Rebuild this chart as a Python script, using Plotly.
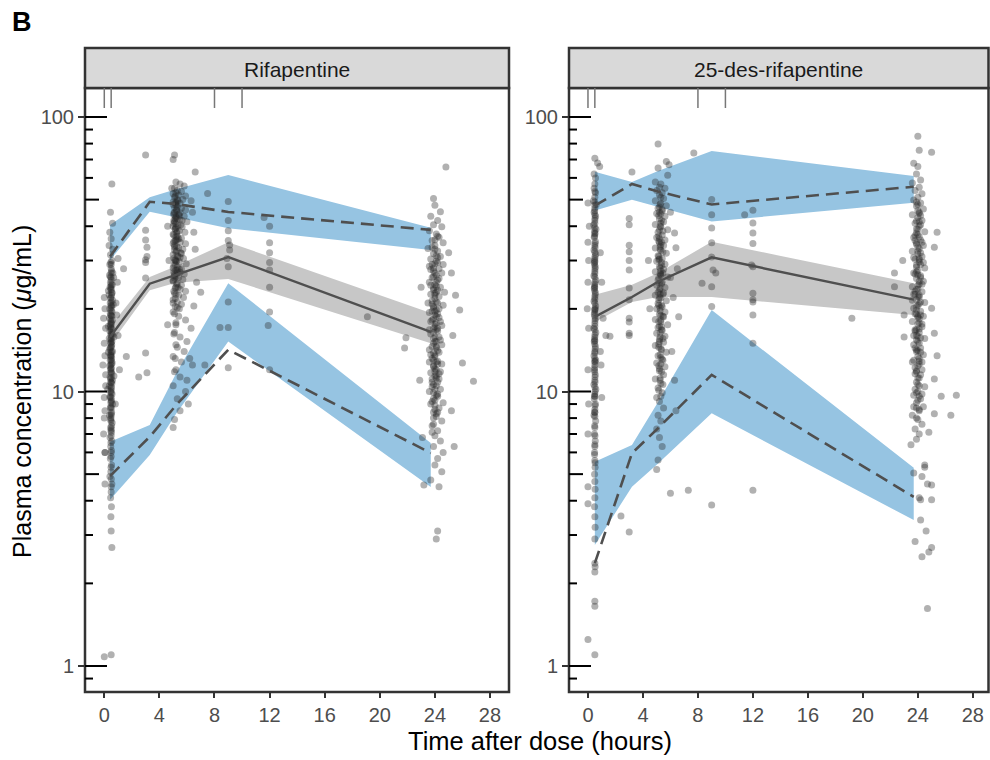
import plotly.graph_objects as go

# ---------------- summary curves (VPC) ----------------
rif_t = [0.42, 3.3, 5.2, 9.0, 23.7]
rif_mean = [15.8, 24.7, 26.6, 30.9, 16.5]
rif_mean_lo = [14.8, 23.4, 24.9, 25.7, 15.0]
rif_mean_hi = [17.2, 26.1, 28.6, 35.0, 19.3]
rif_p95 = [31.0, 49.1, 48.2, 45.1, 38.8]
rif_p95_lo = [30.1, 45.2, 43.0, 39.3, 32.8]
rif_p95_hi = [40.4, 51.0, 54.6, 61.5, 39.5]
rif_p05 = [4.92, 6.84, 8.9, 14.2, 5.97]
rif_p05_lo = [4.03, 5.87, 8.28, 15.2, 4.49]
rif_p05_hi = [6.56, 7.55, 11.6, 24.8, 6.49]

des_t = [0.5, 3.2, 5.1, 9.0, 23.7]
des_mean = [18.7, 22.1, 25.1, 30.8, 21.6]
des_mean_lo = [17.9, 21.2, 22.1, 22.1, 19.0]
des_mean_hi = [22.5, 24.5, 27.0, 35.1, 24.8]
des_p95 = [47.5, 57.0, 53.5, 48.0, 55.7]
des_p95_lo = [45.6, 49.9, 47.1, 41.6, 48.7]
des_p95_hi = [63.2, 58.0, 63.6, 75.2, 61.0]
des_p05 = [2.37, 5.96, 7.35, 11.5, 4.13]
des_p05_lo = [2.76, 4.50, 5.47, 8.33, 3.40]
des_p05_hi = [5.55, 6.38, 9.16, 19.8, 5.27]

# rug (top) times
rug_times = [0, 0.5, 8, 10]

# ---------------- observations (time h, conc ug/mL) ----------------
rif_obs_05h = [
    (0.55,57),(0.45,45),(0.6,41),(0.4,38),(0.5,36),(0.35,34),(0.6,33),(0.45,31.5),(0.55,30),(0.4,29),
    (0.5,28),(0.62,27),(0.38,26.5),(0.5,26),(0.45,25),(0.58,24.5),(0.42,24),(0.5,23.5),(0.55,23),(0.35,22.5),
    (0.48,22),(0.6,21.5),(0.43,21),(0.52,20.5),(0.4,20),(0.56,19.5),(0.47,19),(0.38,18.5),(0.6,18.2),(0.5,18),
    (0.44,17.5),(0.53,17),(0.41,16.6),(0.58,16.2),(0.49,16),(0.36,15.6),(0.55,15.2),(0.46,15),(0.51,14.6),(0.4,14.2),
    (0.6,14),(0.47,13.6),(0.53,13.3),(0.43,13),(0.57,12.7),(0.39,12.4),(0.5,12.2),(0.45,12),(0.55,11.6),(0.42,11.3),
    (0.59,11),(0.48,10.8),(0.37,10.5),(0.52,10.3),(0.45,10),(0.56,9.8),(0.41,9.5),(0.5,9.2),(0.6,9),(0.44,8.7),
    (0.53,8.4),(0.38,8.2),(0.49,8),(0.57,7.7),(0.46,7.4),(0.52,7.1),(0.42,6.8),(0.55,6.6),(0.47,6.3),(0.5,6),
    (0.44,5.7),(0.53,5.4),(0.48,5.1),(0.41,4.9),(0.55,4.6),(0.5,4.3),(0.46,4.1),(0.52,3.8),(0.48,3.5),(0.5,3.1),
    (0.55,2.7),
    (0.47,29.5),(0.53,27.5),(0.44,26.2),(0.5,24.2),(0.56,22.8),(0.46,21.8),(0.51,20.2),(0.43,19.3),(0.55,18.8),(0.49,17.8),
    (0.45,17.2),(0.52,16.4),(0.47,15.4),(0.54,14.8),(0.42,14.4),(0.5,13.8),(0.46,13.4),(0.53,12.9),(0.48,12.5),(0.51,11.8),
    (0.45,11.1),(0.55,10.7),(0.49,10.1),(0.43,9.6),(0.52,9.3),(0.47,8.8),(0.5,8.3),(0.46,7.9),(0.53,7.5),(0.48,7.2),
    (0.5,29),(0.49,27),(0.51,25.5),(0.5,24.6),(0.48,23.7),(0.52,22.4),(0.5,21.2),(0.49,20.6),(0.51,19.7),(0.5,18.9),
    (0.48,18.3),(0.52,17.6),(0.5,16.9),(0.49,16.2),(0.51,15.6),(0.5,15.1),(0.48,14.5),(0.52,14.0),(0.5,13.5),(0.49,13.1),
    (0.51,12.6),(0.5,12.1),(0.48,11.7),(0.52,11.2),(0.5,10.8),(0.49,10.4),(0.51,9.9),(0.5,9.5),(0.48,9.1),(0.52,8.7),
    (0.5,8.2),(0.49,7.8),(0.51,7.3),(0.5,6.9),(0.48,6.5),(0.52,6.1),(0.5,5.8),(0.49,5.3),(0.51,4.8),(0.5,4.5),
    (0.0,22),(0.05,20),(-0.05,18.5),(0.1,17),(0.0,15),(0.05,13.5),(-0.1,12.5),(0.1,11.5),(0.0,9.5),(0.05,8.5),
    (0.0,8.0),(-0.05,7.0),(0.05,6.0),(0.1,10.5),(1.0,30.5),(0.95,25),(1.4,28),(1.6,13.4),(1.0,16),(0.9,19),
    (1.1,12),(0.8,9),(0.85,21),(0.05,4.6),(0.0,1.08),(0.5,1.1),(0.3,17.3),(0.65,20.7),(0.3,13.9),(0.7,11.4),
    (0.25,10.2),(0.7,15.8),(0.3,23.3),(0.68,26),(0.05,6.0),
]
rif_obs_3h = [
    (3.0,72.7),(3.0,38.7),(3.0,35.6),(3.1,31),(3.0,29.5),(3.0,25.9),(3.0,13.8),(3.1,11.7),(2.5,11.3),(3.0,30.2),(3.1,33.5),
]
rif_obs_5h = [
    (5.1,72.7),(5.0,70),(6.6,63),(5.2,58),(5.5,57),(5.8,56),(4.9,55),(5.3,54),(5.6,53.5),(5.0,52.5),
    (5.4,52),(5.9,51.5),(5.1,51),(5.7,50),(6.3,49.5),(5.2,49),(5.5,48.5),
    (5.0,48),(5.3,47.2),(5.6,46.5),(5.9,45.8),(5.1,45),(5.4,44.2),(5.8,43.5),(5.2,43),(5.5,42.2),(6.0,41.5),
    (5.05,41),(5.35,40.2),(5.65,39.8),(5.15,39),(5.45,38.5),(5.85,38),(5.0,37.4),(5.3,36.8),(5.6,36.2),(5.2,35.6),
    (5.5,35),(5.9,34.5),(5.1,34),(5.4,33.4),(5.7,33),(5.25,32.5),(5.55,32),(5.0,31.5),(5.35,31),(5.75,30.5),
    (5.15,30),(5.45,29.6),(5.95,29.2),(5.05,28.8),(5.3,28.4),(5.6,28),(5.2,27.6),(5.5,27.2),(5.8,26.8),(5.1,26.4),
    (5.4,26),(5.7,25.6),(5.0,25.2),(5.3,24.8),(5.6,24.4),(5.2,24),(5.5,23.6),(5.9,23.2),(5.1,22.8),(5.4,22.4),
    (5.75,22),(5.0,21.6),(5.3,21.2),(5.6,20.8),(5.15,20.4),(5.45,20),
    (5.25,46),(5.45,43.8),(5.15,42.5),(5.55,40.5),(5.25,37.9),(5.4,36),(5.1,33.6),(5.6,31.8),(5.25,29.8),(5.45,27.9),
    (5.1,25.9),(5.35,23.9),(5.05,35.2),(5.5,30.8),(5.3,27),(5.2,39.6),(5.5,44.8),(5.35,49.5),(5.05,44),(5.65,42),
    (5.1,55),(5.2,53),(5.15,51.5),(5.3,50),(5.0,49),(5.2,47.8),(5.1,46.8),(5.25,45.6),(5.05,44.6),(5.2,43.4),
    (5.3,42.6),(5.1,41.6),(5.2,40.8),(5.0,40),(5.15,39.2),(5.3,38.2),(5.05,37.2),(5.2,36.6),(5.15,35.4),(5.0,34.6),
    (5.25,33.8),(5.1,32.8),(5.2,32.2),(5.3,31.2),(5.05,30.6),(5.2,29.8),(5.15,29),(5.0,28.2),(5.3,27.6),(5.1,26.8),
    (5.2,26.2),(5.0,25.4),(5.25,24.6),(5.15,23.8),(5.05,23.2),(5.2,22.6),(5.15,21.8),(5.0,21),(5.3,20.2),(5.1,19.2),
    (5.2,17.8),(5.05,16.2),(5.2,14.8),(5.15,13.2),(5.1,11.8),(5.2,48.6),(5.05,42),(5.3,35.8),(5.15,30.2),(5.05,27.2),
    (5.0,19.5),(5.4,18.8),(5.9,18.2),(5.2,17.5),(6.3,17),(5.1,16.4),(5.5,15.8),(6.0,15.2),(5.3,14.5),(5.8,14),
    (5.0,13.4),(5.6,12.8),(6.4,12.5),(5.2,12),(5.5,11.3),(5.0,10.5),(5.9,10),(5.3,9.4),(6.1,9),(5.5,8.5),
    (5.1,7.9),(5.0,7.4),(4.6,17.5),(6.5,20.5),(6.7,25),(6.6,33),(6.5,38),(4.7,30),(4.6,40),(6.4,45),
    (7.0,23),(6.2,13.2),
]
rif_obs_9h = [
    (9.0,49.2),(9.0,42),(9.0,35.5),(9.1,32.8),(9.0,28.5),(9.0,21.2),(9.0,17.1),(9.0,12.2),(8.4,17.1),(7.5,52.6),
    (7.3,12.5),(6.0,11),(9.1,34.2),(8.9,30.5),(9.0,38.5),
]
rif_obs_12h = [
    (11.6,43),(12.0,40),(12.0,34.8),(12.0,32),(12.0,29.5),(12.0,27.7),(12.0,24),(12.0,19.5),(11.9,17.4),(12.0,12),
]
rif_obs_24h = [
    (24.8,65.8),(23.9,50.5),(24.0,47.7),(24.4,45.2),(23.7,43.5),(24.2,42),(23.9,40.5),(24.5,39.8),(23.6,38.5),(24.1,37.5),
    (24.3,36.5),(23.8,35.5),(24.6,34.8),(24.0,34),(23.5,33.2),(24.2,32.5),(23.9,31.8),(24.4,31),(23.7,30.4),(24.1,29.8),
    (24.0,29.2),(23.6,28.6),(24.3,28),(23.9,27.5),(24.5,27),(24.1,26.5),(23.8,26),(24.2,25.5),(23.6,25),(24.0,24.5),
    (24.4,24),(23.9,23.5),(24.1,23),(23.7,22.6),(24.3,22.2),(24.0,21.8),(23.8,21.4),(24.2,21),(24.6,20.6),(23.9,20.2),
    (24.1,19.8),(23.6,19.4),(24.0,19),(24.3,18.6),(23.8,18.2),(24.1,17.8),(24.5,17.4),(23.9,17),(24.2,16.6),(23.7,16.2),
    (24.0,15.8),(24.4,15.4),(23.9,15),(24.1,14.6),(23.6,14.2),(24.3,13.9),(24.0,13.6),(23.8,13.2),(24.2,12.9),(24.5,12.6),
    (23.9,12.3),(24.1,12),(23.7,11.7),(24.0,11.4),(24.3,11.1),(23.8,10.8),(24.1,10.5),(24.4,10.2),(23.9,9.9),(24.2,9.6),
    (24.0,9.3),(23.7,9.0),(24.3,8.7),(23.9,8.4),(24.1,8.1),(24.5,7.8),(23.8,7.5),(24.2,7.2),(24.0,6.9),(24.4,6.6),
    (23.9,6.3),(24.6,6.0),(24.2,5.7),(24.0,5.4),(24.5,5.1),(23.7,4.76),(24.3,4.5),(23.2,4.56),(24.2,3.1),(24.1,2.9),
    (24.0,33),(24.2,29.5),(23.9,26.2),(24.1,24.2),(24.0,22.8),(23.8,20.8),(24.2,19.2),(24.0,17.6),(23.9,16.4),(24.1,15.2),
    (24.2,14.1),(23.9,13),(24.0,12.1),(24.1,11.2),(23.8,10.4),(24.2,9.8),(24.0,8.9),(23.9,8.0),(24.3,25.8),(23.7,27.8),
    (24.4,18),(23.6,16.8),(24.5,14.8),(23.6,12.8),(24.4,11.8),(23.6,10.0),(24.6,9.1),(23.5,21),(24.7,23),(24.6,29),
    (24.0,35.6),(24.1,31.2),(23.9,28.2),(24.0,27),(24.1,25),(23.9,23.8),(24.0,22.4),(24.1,21.2),(23.9,20.4),(24.0,19.6),
    (24.1,18.8),(23.9,18.4),(24.0,17.2),(24.1,16.8),(23.9,15.6),(24.0,15.2),(24.1,14.4),(23.9,13.8),(24.0,13.4),(24.1,12.8),
    (23.9,12.4),(24.0,11.8),(24.1,11.4),(23.9,10.6),(24.0,10.2),(24.1,9.7),(23.9,9.4),(24.0,8.6),(24.1,8.3),(23.9,7.6),
    (24.2,36.8),(23.8,33.5),(24.2,30.8),(23.8,29),(24.2,23.4),(23.8,19.6),(24.2,17),(23.8,14.6),(24.2,12.6),(23.8,11.1),
    (24.2,10.8),(23.8,9.2),(24.2,8.4),(23.8,7.1),(24.3,20),(23.7,18),(24.3,15.8),(23.7,13.6),(24.3,11.6),(23.7,24.4),
    (26.0,12.7),(26.8,10.9),(25.8,19.8),(25.5,22.4),(21.9,15.7),(21.8,14.4),(19.1,18.7),(25.2,27),(25.0,32),(23.0,24),
    (25.3,16),(22.9,11),(25.2,8.5),(25.4,6.3),(23.1,6.8),
]

des_obs_05h = [
    (0.5,70.7),(0.7,68),(0.85,66),(0.45,62),(0.55,60),(0.0,48.6),(0.5,57),(0.45,55),(0.55,53),(0.5,51),
    (0.4,49.5),(0.6,48),(0.5,46.5),(0.45,45),(0.55,43.5),(0.5,42),(0.42,40.5),(0.58,39),(0.5,37.8),(0.46,36.5),
    (0.54,35.2),(0.5,34),(0.44,32.8),(0.56,31.6),(0.5,30.5),(0.47,29.4),(0.53,28.4),(0.5,27.4),(0.43,26.4),(0.57,25.5),
    (0.5,24.6),(0.46,23.7),(0.54,22.9),(0.5,22.1),(0.44,21.3),(0.56,20.5),(0.5,19.8),(0.47,19.1),(0.53,18.4),(0.5,17.7),
    (0.43,17),(0.57,16.4),(0.5,15.8),(0.46,15.2),(0.54,14.6),(0.5,14),(0.44,13.5),(0.56,13),(0.5,12.5),(0.47,12),
    (0.53,11.5),(0.5,11),(0.43,10.6),(0.57,10.2),(0.5,9.8),(0.46,9.4),(0.54,9),(0.5,8.6),(0.44,8.2),(0.56,7.8),
    (0.5,7.4),(0.47,7),(0.53,6.6),(0.5,6.3),(0.48,6.0),(0.5,5.6),(0.52,5.3),(0.48,5.0),(0.5,4.7),(0.52,4.4),
    (0.5,4.1),(0.48,3.8),(0.5,3.5),(0.52,3.2),(0.5,2.9),(0.5,2.37),(0.5,2.2),(0.52,2.3),(0.5,1.72),(0.5,1.65),
    (0.0,1.25),(0.5,1.1),
    (0.5,44),(0.48,38.4),(0.52,33.4),(0.49,28.9),(0.51,25),(0.5,21.7),(0.49,18.8),(0.51,16.1),(0.5,13.8),(0.49,11.8),
    (0.51,10.8),(0.5,9.6),(0.49,8.4),(0.51,31),(0.5,26.9),(0.49,23.3),(0.51,20.1),(0.5,17.3),(0.49,14.9),(0.51,12.8),
    (0.5,41),
    (0.5,49),(0.49,45.5),(0.51,42.8),(0.5,39.6),(0.48,36.8),(0.52,34.6),(0.5,32.2),(0.49,30),(0.51,28),(0.5,26.1),
    (0.48,24.2),(0.52,22.5),(0.5,21),(0.49,19.4),(0.51,18.1),(0.5,16.8),(0.48,15.5),(0.52,14.3),(0.5,13.2),(0.49,12.2),
    (0.51,11.3),(0.5,10.4),(0.48,9.6),(0.52,8.9),(0.5,8.1),(0.49,7.5),(0.51,6.9),(0.5,6.4),(0.48,5.9),(0.52,5.5),
    (0.5,53.5),(0.49,47.8),(0.51,37.5),(0.5,29.7),(0.49,23.9),(0.51,19.9),(0.5,15.3),(0.49,12.9),(0.51,10),(0.5,8.4),
    (0.0,35),(0.05,30),(0.0,25),(-0.05,20),(0.05,17),(0.0,12),(0.05,9),(0.0,7),(1.0,25),(1.1,18.5),
    (0.9,14),(1.3,16),(0.95,12.5),(0.0,4.5),(0.0,3.9),(1.0,9.5),(0.1,40),(0.9,32),
]
des_obs_3h = [
    (3.2,63),(3.0,42.7),(3.0,40.5),(3.0,34.1),(3.0,32.3),(3.0,30),(3.0,27.7),(3.0,23.8),(3.0,21.6),(3.0,18.5),
    (3.0,17.9),(3.0,16.3),(1.6,15.9),(3.0,16),(3.0,3.08),(2.4,3.52),(6.0,4.26),(7.3,4.37),
]
des_obs_5h = [
    (5.1,79.7),(5.1,65.2),(5.7,68.8),(5.9,67),(5.8,61.4),(4.9,58),(5.3,57),(5.6,55),(5.0,54),(5.4,53),
    (5.2,52),(5.5,50.5),(4.9,49.5),(5.3,48.5),(5.7,47.5),(5.1,46.5),(5.4,45.5),(5.0,44.5),(5.6,43.5),(5.2,42.5),
    (5.5,41.5),(4.9,40.6),(5.3,39.7),(5.8,38.8),(5.1,38),(5.4,37.2),(5.0,36.4),(5.6,35.6),(5.2,34.8),(5.5,34),
    (4.9,33.3),(5.3,32.6),(5.7,31.9),(5.1,31.2),(5.4,30.5),(5.0,29.8),(5.6,29.1),(5.2,28.5),(5.5,27.9),(4.9,27.3),
    (5.3,26.7),(5.8,26.1),(5.1,25.5),(5.4,25),(5.0,24.4),(5.6,23.9),(5.2,23.4),(5.5,22.9),(4.9,22.4),(5.3,21.9),
    (5.7,21.4),(5.1,20.9),(5.4,20.4),(5.0,20),(5.6,19.5),(5.2,19.1),(5.5,18.7),(4.9,18.3),(5.3,17.9),(5.8,17.5),
    (5.1,17.1),(5.4,16.7),(5.0,16.3),(5.6,15.9),(5.2,15.5),(5.5,15.1),(4.9,14.7),(5.3,14.3),(5.7,13.9),(5.1,13.5),
    (5.4,13.1),(5.0,12.7),(5.6,12.3),(5.2,11.9),(5.5,11.5),(4.9,11.1),(5.3,10.7),(5.1,10.3),(5.4,9.9),(5.0,9.5),
    (5.2,9.2),(5.5,8.7),(5.1,8.2),(5.3,7.8),(5.0,7.3),(5.2,6.8),(5.4,6.3),(5.1,5.63),(5.0,5.2),
    (5.2,45),(5.3,41),(5.2,36),(5.25,33),(5.15,30.2),(5.3,27.5),(5.2,24.8),(5.25,22.6),(5.15,20.6),(5.3,18.9),
    (5.2,17.3),(5.25,15.8),(5.15,14.5),(5.3,13.3),(5.2,12.1),(5.25,11),(5.15,35.3),(5.35,28.8),(5.1,23),(5.35,16.8),
    (5.2,55.5),(5.3,51),(5.25,48),(5.4,46),(5.15,43.8),(5.35,42),(5.25,40),(5.45,38.4),(5.15,36.8),(5.35,35),
    (5.25,33.7),(5.45,32.2),(5.15,31),(5.35,29.5),(5.25,28.2),(5.45,27),(5.15,25.9),(5.35,24.7),(5.25,23.7),(5.45,22.6),
    (5.15,21.6),(5.35,20.6),(5.25,19.7),(5.45,18.8),(5.15,18),(5.35,17.2),(5.25,16.4),(5.45,15.6),(5.15,14.9),(5.35,14.2),
    (5.25,13.6),(5.45,13),(5.15,12.4),(5.35,11.8),(5.25,11.2),(5.45,10.6),(5.15,10.1),(5.3,9.6),(5.2,38.8),(5.3,34.2),
    (5.2,30.4),(5.3,26.4),(5.2,22),(5.3,18.2),(5.2,15.2),(5.3,12.6),(5.2,47),(5.3,44.4),(5.25,26.9),(5.25,20.2),
    (6.3,37.8),(6.4,33.4),(6.0,26),(6.6,18.7),(6.2,22),(6.5,28),(6.1,14),(6.3,11),(4.5,20),(4.4,30),
    (6.0,45),(6.4,8.5),
]
des_obs_9h = [
    (9.0,50),(9.0,44),(9.0,39.4),(9.0,34.8),(9.0,30.9),(9.1,27.7),(9.3,27),(8.3,24.8),(9.0,24.1),(9.0,20.4),
    (9.0,3.86),(7.7,73.9),
]
des_obs_12h = [
    (11.4,44),(12.0,45.7),(12.0,41.1),(12.0,37.8),(12.0,34.6),(11.9,28.9),(12.0,28.5),(12.0,21.2),(12.0,22.8),(12.0,21.6),
    (12.0,19),(12.0,15.0),(12.0,4.37),(19.2,18.5),
]
des_obs_24h = [
    (24.0,85),(24.1,75.6),(25.0,74.4),(23.7,67.8),(24.0,66),(23.9,62),(24.2,59),(23.6,57.5),(24.1,55.5),(23.8,54),
    (24.3,52.5),(24.0,51),(23.7,49.8),(24.2,48.6),(23.9,47.4),(24.4,46.2),(24.1,45),(23.6,44),(24.0,43),(24.3,42),
    (23.8,41),(24.1,40),(23.9,39.1),(24.5,38.2),(24.0,37.3),(23.7,36.4),(24.2,35.6),(23.9,34.8),(24.4,34),(24.1,33.2),
    (23.6,32.4),(24.0,31.7),(24.3,31),(23.8,30.3),(24.1,29.6),(23.9,28.9),(24.5,28.2),(24.0,27.6),(23.7,27),(24.2,26.4),
    (23.9,25.8),(24.4,25.2),(24.1,24.6),(23.6,24.1),(24.0,23.6),(24.3,23.1),(23.8,22.6),(24.1,22.1),(23.9,21.6),(24.5,21.1),
    (24.0,20.6),(23.7,20.1),(24.2,19.6),(23.9,19.2),(24.4,18.8),(24.1,18.4),(23.6,18),(24.0,17.6),(24.3,17.2),(23.8,16.8),
    (24.1,16.4),(23.9,16),(24.5,15.6),(24.0,15.2),(23.7,14.8),(24.2,14.4),(23.9,14),(24.4,13.6),(24.1,13.2),(23.6,12.8),
    (24.0,12.4),(24.3,12),(23.8,11.6),(24.1,11.2),(23.9,10.8),(24.5,10.4),(24.0,10),(23.7,9.7),(24.2,9.4),(23.9,9.1),
    (24.4,8.8),(24.1,8.5),(23.6,8.2),(24.0,7.9),(24.3,7.6),(23.8,7.3),(24.1,7.0),(23.9,6.7),(23.5,6.4),(24.5,5.4),
    (24.5,5.3),(25.0,4.56),(24.7,4.6),(25.0,4.03),(24.2,4.03),(24.1,4.1),(24.2,3.4),(24.6,3.1),(23.7,5.05),(24.3,4.9),
    (23.8,2.84),(24.3,2.5),(24.8,2.6),(25.0,2.7),(24.7,1.62),
    (24.0,45.5),(24.1,41.5),(23.9,37.8),(24.0,33.6),(24.1,30.6),(23.9,27.3),(24.0,24.4),(24.1,22.4),(23.9,20.4),(24.0,18.6),
    (24.1,16.9),(23.9,15.4),(24.0,14.1),(24.1,12.9),(23.9,11.8),(24.0,10.6),(24.1,9.6),(23.9,8.7),(24.2,26),(23.8,23.2),
    (24.2,19),(23.8,16.6),(24.2,13.9),(23.8,12.2),(24.2,32),(23.8,35.5),(24.2,43.8),(23.9,49),(24.4,29.5),(23.6,21.5),
    (24.0,48),(24.1,44.5),(23.9,41.8),(24.0,39),(24.1,36.6),(23.9,34.4),(24.0,32.4),(24.1,30.2),(23.9,28.4),(24.0,26.6),
    (24.1,25.2),(23.9,23.6),(24.0,22.2),(24.1,20.9),(23.9,19.8),(24.0,18.8),(24.1,17.8),(23.9,16.8),(24.0,15.9),(24.1,15),
    (23.9,14.2),(24.0,13.4),(24.1,12.6),(23.9,11.9),(24.0,11.2),(24.1,10.5),(23.9,9.9),(24.0,9.3),(24.1,8.6),(23.9,8),
    (24.2,40.5),(23.8,37),(24.2,29),(23.8,26.8),(24.2,21.2),(23.8,19.2),(24.2,15.7),(23.8,14.4),(24.2,11.5),(23.8,10.2),
    (24.3,24.6),(23.7,30.8),(24.3,17.6),(23.7,13),(24.3,9.8),(23.7,22.6),(24.3,35),(23.7,16),(24.3,12.8),(23.7,8.8),
    (25.2,33.5),(25.0,20.1),(25.2,16.3),(25.2,11.1),(25.7,9.6),(26.4,8.2),(25.2,8.3),(24.8,7.1),(22.3,27),(22.3,24.1),
    (23.0,15.8),(22.9,30),(23.0,19),(26.8,9.7),(25.4,38),(25.4,13.5),
]

panel_titles = ["Rifapentine", "25-des-rifapentine"]
x_ticks = [0, 4, 8, 12, 16, 20, 24, 28]
y_ticks = [1, 10, 100]
y_ticktext = ["1", "10", "100"]

# ---------------- styling ----------------
W, H = 990, 760
BLUE = "rgb(150,196,226)"
GREY_BAND = "rgb(199,199,199)"
LINE_C = "#4f4f4f"
PT_C = "rgba(40,40,40,0.36)"
FONT = "Liberation Sans, Arial, Helvetica, sans-serif"


def px_x(v):
    return v / W


def px_y(v):
    return 1 - v / H


y_dom = [px_y(692), px_y(88)]
x_doms = [[px_x(85), px_x(509)], [px_x(569), px_x(988.5)]]
x_ranges = [[-1.40, 29.38], [-1.38, 29.14]]
y_range = [-0.0947, 2.1056]
plot_h = 692 - 88

panels = [
    dict(t=rif_t, mean=rif_mean, mlo=rif_mean_lo, mhi=rif_mean_hi, p95=rif_p95, p95lo=rif_p95_lo,
         p95hi=rif_p95_hi, p05=rif_p05, p05lo=rif_p05_lo, p05hi=rif_p05_hi,
         obs=rif_obs_05h + rif_obs_3h + rif_obs_5h + rif_obs_9h + rif_obs_12h + rif_obs_24h),
    dict(t=des_t, mean=des_mean, mlo=des_mean_lo, mhi=des_mean_hi, p95=des_p95, p95lo=des_p95_lo,
         p95hi=des_p95_hi, p05=des_p05, p05lo=des_p05_lo, p05hi=des_p05_hi,
         obs=des_obs_05h + des_obs_3h + des_obs_5h + des_obs_9h + des_obs_12h + des_obs_24h),
]

fig = go.Figure()
shapes = []
annotations = []

for i, p in enumerate(panels):
    xa = "x" if i == 0 else "x2"
    ya = "y" if i == 0 else "y2"
    t = p["t"]
    poly_x = t + t[::-1]
    for hi, lo, col in [(p["p95hi"], p["p95lo"], BLUE), (p["p05hi"], p["p05lo"], BLUE),
                        (p["mhi"], p["mlo"], GREY_BAND)]:
        fig.add_trace(go.Scatter(x=poly_x, y=hi + lo[::-1], fill="toself", fillcolor=col,
                                 mode="lines", line=dict(width=0), hoverinfo="skip",
                                 showlegend=False, xaxis=xa, yaxis=ya))
    fig.add_trace(go.Scatter(x=[o[0] for o in p["obs"]], y=[o[1] for o in p["obs"]], mode="markers",
                             marker=dict(size=7, color=PT_C, line=dict(width=0)),
                             showlegend=False, xaxis=xa, yaxis=ya))
    fig.add_trace(go.Scatter(x=t, y=p["mean"], mode="lines", line=dict(color=LINE_C, width=2.4),
                             showlegend=False, xaxis=xa, yaxis=ya))
    for key in ["p95", "p05"]:
        fig.add_trace(go.Scatter(x=t, y=p[key], mode="lines",
                                 line=dict(color=LINE_C, width=2.6, dash="13px,7px"),
                                 showlegend=False, xaxis=xa, yaxis=ya))

    xd = xa + " domain"
    yd = ya + " domain"
    # panel border
    shapes.append(dict(type="rect", xref=xd, yref=yd, x0=0, x1=1, y0=0, y1=1,
                       line=dict(color="#333333", width=2.5), layer="above"))
    # strip
    shapes.append(dict(type="rect", xref=xd, yref="paper", x0=0, x1=1, y0=px_y(88), y1=px_y(48),
                       fillcolor="#d9d9d9", line=dict(color="#333333", width=2.5), layer="above"))
    annotations.append(dict(text=panel_titles[i], xref=xd, yref="paper", x=0.5, y=px_y(69),
                            showarrow=False, xanchor="center", yanchor="middle",
                            font=dict(size=21, color="#1a1a1a", family=FONT)))
    # rug marks at top
    for rt in rug_times:
        shapes.append(dict(type="line", xref=xa, yref=yd, x0=rt, x1=rt, y0=1, y1=1 - 20 / plot_h,
                           line=dict(color="#777777", width=1.5)))
    # log ticks inside (annotation_logticks style)
    dom_w = (x_doms[i][1] - x_doms[i][0]) * W
    tick_vals = [0.9]
    for dec in [1, 10]:
        tick_vals += [k * dec for k in range(1, 10)]
    tick_vals.append(100)
    for v in tick_vals:
        if v in (1, 10, 100):
            L = 22
        elif v in (5, 50):
            L = 14
        else:
            L = 8
        shapes.append(dict(type="line", xref=xd, yref=ya, x0=0, x1=L / dom_w, y0=v, y1=v,
                           line=dict(color="black", width=2)))

axis_common_x = dict(showgrid=False, zeroline=False, showline=False, ticks="outside", ticklen=5,
                     tickwidth=2, tickcolor="#333333", tickvals=x_ticks,
                     tickfont=dict(size=20, color="#4d4d4d", family=FONT))
axis_common_y = dict(type="log", range=y_range, domain=y_dom, showgrid=False, zeroline=False,
                     showline=False, ticks="outside", ticklen=6, tickwidth=1.5, tickcolor="#333333",
                     tickvals=y_ticks, ticktext=y_ticktext,
                     tickfont=dict(size=20, color="#4d4d4d", family=FONT))

annotations += [
    dict(text="<b>B</b>", xref="paper", yref="paper", x=px_x(10), y=px_y(22), showarrow=False,
         xanchor="left", yanchor="middle", font=dict(size=27, color="black", family=FONT)),
    dict(text="Time after dose (hours)", xref="paper", yref="paper", x=px_x(539.5), y=px_y(741),
         showarrow=False, xanchor="center", yanchor="middle",
         font=dict(size=25.5, color="black", family=FONT)),
    dict(text="Plasma concentration (<i>\u03bc</i>g/mL)", xref="paper", yref="paper", x=px_x(22),
         y=px_y(392), showarrow=False, textangle=-90, xanchor="center", yanchor="middle",
         font=dict(size=25, color="black", family=FONT)),
]

fig.update_layout(
    width=W, height=H, autosize=False,
    margin=dict(l=0, r=0, t=0, b=0),
    paper_bgcolor="white", plot_bgcolor="white",
    showlegend=False,
    hovermode=False,
    xaxis=dict(domain=x_doms[0], range=x_ranges[0], anchor="y", **axis_common_x),
    xaxis2=dict(domain=x_doms[1], range=x_ranges[1], anchor="y2", **axis_common_x),
    yaxis=dict(anchor="x", **axis_common_y),
    yaxis2=dict(anchor="x2", **axis_common_y),
    shapes=shapes,
    annotations=annotations,
    font=dict(family=FONT),
)

# remove the page's default body margin so the figure sits at the window origin
page_fix = ("document.documentElement.style.margin='0';document.body.style.margin='0';"
            "document.documentElement.style.overflow='hidden';document.body.style.overflow='hidden';")
fig.write_html("out.html", post_script=page_fix, config={"displayModeBar": False})
